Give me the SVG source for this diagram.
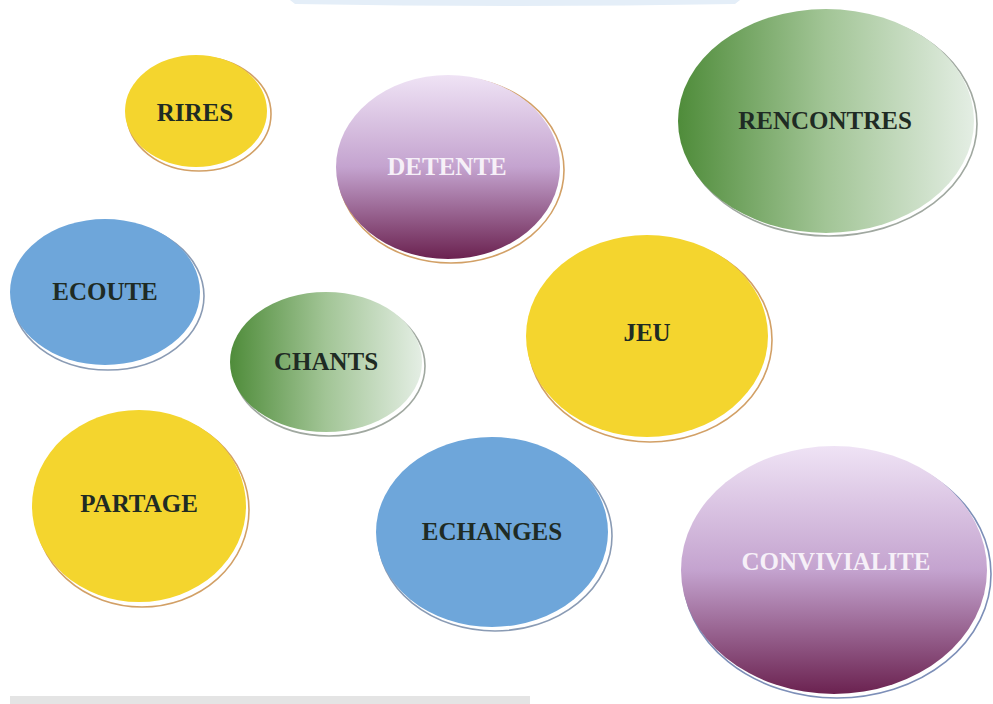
<svg xmlns="http://www.w3.org/2000/svg" width="993" height="704" viewBox="0 0 993 704">
<defs>
<linearGradient id="purple" x1="0" y1="0" x2="0" y2="1">
<stop offset="0" stop-color="#efe3f5"/>
<stop offset="0.5" stop-color="#c4a3cf"/>
<stop offset="1" stop-color="#6b2250"/>
</linearGradient>
<linearGradient id="green" x1="0" y1="0" x2="1" y2="0">
<stop offset="0" stop-color="#4f8c3a"/>
<stop offset="0.5" stop-color="#a2c596"/>
<stop offset="1" stop-color="#e4eee4"/>
</linearGradient>
<style>
.rim{fill:#ffffff;stroke-width:1.6}
.rimY{stroke:#d2a066}
.rimB{stroke:#8a9bb4}
.rimG{stroke:#a0a8a0}
.rimP{stroke:#7d8fb8}
.yellow{fill:#f4d52e}
.blue{fill:#6ea6da}
.lbl{font-family:"Liberation Serif","Times New Roman",serif;font-weight:bold;text-anchor:middle;dominant-baseline:central;font-size:25px}
.dark{fill:#1f2b24}
.light{fill:#f6f0f8}
</style>
</defs>
<rect width="993" height="704" fill="#ffffff"/>
<path d="M290 0 L740 0 L735 4 Q515 8 295 4 Z" fill="#e4eef8"/>
<rect x="10" y="696" width="520" height="8" fill="#e4e4e4"/>

<g id="rires">
<ellipse class="rim rimY" cx="199" cy="114" rx="72" ry="57"/>
<ellipse class="yellow" cx="196" cy="111" rx="71" ry="56"/>
<text class="lbl dark" x="195" y="112">RIRES</text>
</g>
<g id="detente">
<ellipse class="rim rimY" cx="451" cy="170" rx="113" ry="93"/>
<ellipse fill="url(#purple)" cx="448" cy="167" rx="112" ry="92"/>
<text class="lbl light" x="447" y="166">DETENTE</text>
</g>
<g id="rencontres">
<ellipse class="rim rimG" cx="829" cy="124" rx="148" ry="112"/>
<ellipse fill="url(#green)" cx="826" cy="121" rx="148" ry="112"/>
<text class="lbl dark" x="825" y="120">RENCONTRES</text>
</g>
<g id="ecoute">
<ellipse class="rim rimB" cx="108" cy="296" rx="96" ry="74"/>
<ellipse class="blue" cx="105" cy="292" rx="95" ry="73"/>
<text class="lbl dark" x="105" y="291">ECOUTE</text>
</g>
<g id="chants">
<ellipse class="rim rimG" cx="329" cy="366" rx="96" ry="70"/>
<ellipse fill="url(#green)" cx="326" cy="362" rx="96" ry="70"/>
<text class="lbl dark" x="326" y="361">CHANTS</text>
</g>
<g id="jeu">
<ellipse class="rim rimY" cx="650" cy="340" rx="122" ry="102"/>
<ellipse class="yellow" cx="647" cy="336" rx="121" ry="101"/>
<text class="lbl dark" x="647" y="332">JEU</text>
</g>
<g id="partage">
<ellipse class="rim rimY" cx="142" cy="510" rx="107" ry="97"/>
<ellipse class="yellow" cx="139" cy="506" rx="107" ry="96"/>
<text class="lbl dark" x="139" y="503">PARTAGE</text>
</g>
<g id="echanges">
<ellipse class="rim rimB" cx="495" cy="536" rx="117" ry="95"/>
<ellipse class="blue" cx="492" cy="532" rx="116" ry="95"/>
<text class="lbl dark" x="492" y="531">ECHANGES</text>
</g>
<g id="convivialite">
<ellipse class="rim rimP" cx="837" cy="574" rx="154" ry="124"/>
<ellipse fill="url(#purple)" cx="834" cy="570" rx="153" ry="124"/>
<text class="lbl light" x="836" y="561">CONVIVIALITE</text>
</g>
<g id="connectors"/>
</svg>
